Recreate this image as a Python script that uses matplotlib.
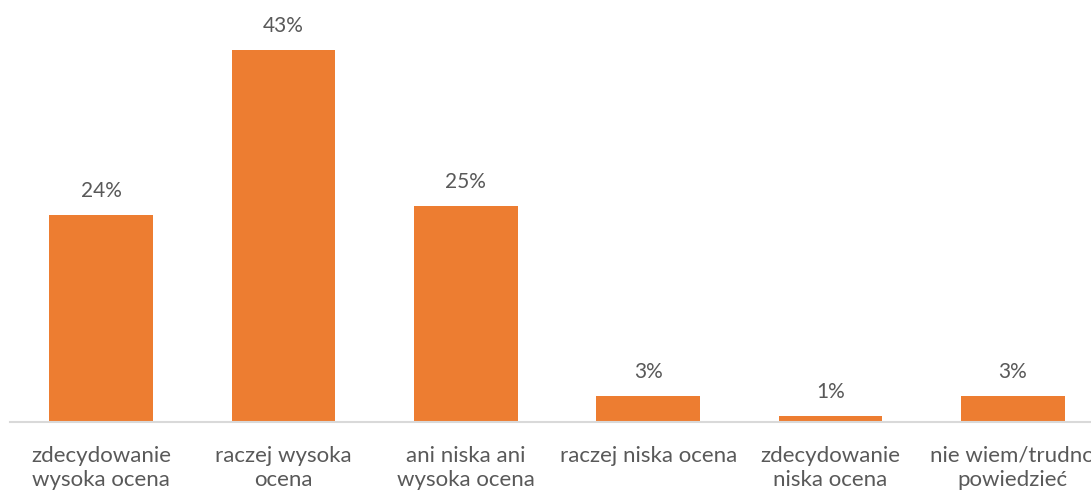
import matplotlib.pyplot as plt

categories = [
    "zdecydowanie\nwysoka ocena",
    "raczej wysoka\nocena",
    "ani niska ani\nwysoka ocena",
    "raczej niska ocena",
    "zdecydowanie\nniska ocena",
    "nie wiem/trudno\npowiedzieć",
]
values = [24, 43, 25, 3, 0.7, 3]
value_labels = ["24%", "43%", "25%", "3%", "1%", "3%"]

plt.rcParams["font.family"] = ["Lato", "DejaVu Sans"]

W, H = 1091, 492
fig = plt.figure(figsize=(W / 100, H / 100), dpi=100)
# axes extends slightly past the right edge like the cropped original
ax = fig.add_axes([10 / W, 70 / H, 1094 / W, 389 / H])

x = range(len(categories))
bars = ax.bar(x, values, width=0.57, color="#ed7d31")
ax.set_xlim(-0.5, 5.5)
ax.set_ylim(0, 45)

for b, lab in zip(bars, value_labels):
    ax.annotate(lab, (b.get_x() + b.get_width() / 2, b.get_height()),
                xytext=(0, 10), textcoords="offset points",
                ha="center", va="bottom", fontsize=15, color="#595959")

ax.set_xticks(list(x))
ax.set_xticklabels(categories, fontsize=16, color="#595959", linespacing=1.25)
ax.tick_params(axis="x", length=0, pad=17)
ax.set_yticks([])
for s in ["top", "right", "left"]:
    ax.spines[s].set_visible(False)
ax.spines["bottom"].set_color("#d9d9d9")
ax.spines["bottom"].set_linewidth(1.5)

fig.savefig("out.png", dpi=100)
